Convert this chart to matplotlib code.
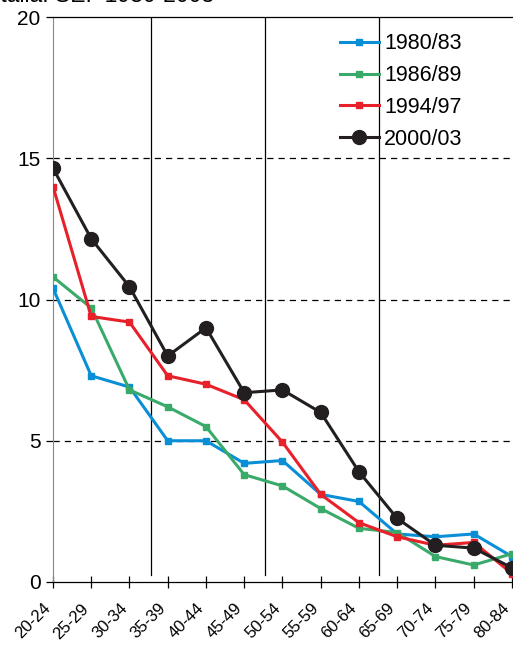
import matplotlib
matplotlib.use('Agg')
from matplotlib import pyplot as plt
from matplotlib.transforms import ScaledTranslation

plt.rcParams['font.family'] = ['Liberation Sans', 'DejaVu Sans']

# classi di età
eta = ['20-24', '25-29', '30-34', '35-39', '40-44', '45-49', '50-54',
       '55-59', '60-64', '65-69', '70-74', '75-79', '80-84']

s1980 = [10.4, 7.3, 6.9, 5.0, 5.0, 4.2, 4.3, 3.1, 2.85, 1.7, 1.6, 1.7, 0.9]
s1986 = [10.8, 9.7, 6.8, 6.2, 5.5, 3.8, 3.4, 2.6, 1.9, 1.75, 0.9, 0.6, 1.0]
s1994 = [14.0, 9.4, 9.2, 7.3, 7.0, 6.45, 4.95, 3.1, 2.1, 1.6, 1.3, 1.4, 0.3]
s2000 = [14.65, 12.15, 10.45, 8.0, 9.0, 6.7, 6.8, 6.0, 3.9, 2.25, 1.3, 1.2, 0.5]

serie = [('1980/83', s1980, '#0a8fd6', 's', 5),
         ('1986/89', s1986, '#3aaa6a', 's', 5),
         ('1994/97', s1994, '#e8202a', 's', 5),
         ('2000/03', s2000, '#231f20', 'o', 10)]

fig = plt.figure(figsize=(5.13, 6.45), dpi=100)
ax = fig.add_axes([0.1033, 0.0977, 0.8947, 0.8759])

x = list(range(len(eta)))

# linee verticali di separazione
for xv in [2.55, 5.55, 8.52]:
    ax.plot([xv, xv], [0.25, 20], color='black', lw=0.9, zorder=1)

# griglia orizzontale tratteggiata
for yv in [5, 10, 15]:
    ax.axhline(yv, color='black', lw=0.9, ls=(0, (5, 4)), zorder=1)

for nome, val, col, mk, ms in serie:
    ax.plot(x, val, color=col, lw=2.2, marker=mk, ms=ms, label=nome, zorder=3)

ax.set_xlim(0, 12)
ax.set_ylim(0, 20)
ax.set_yticks([0, 5, 10, 15, 20])
ax.set_xticks(x)
ax.set_xticklabels(eta, rotation=45, ha='right', va='top',
                   rotation_mode='anchor', fontsize=12)
ax.tick_params(axis='x', direction='inout', length=9, width=0.9, pad=9)
ax.tick_params(axis='y', direction='out', length=5, width=0.9, labelsize=15, pad=4)
for lab in ax.get_xticklabels():
    lab.set_transform(lab.get_transform() + ScaledTranslation(-0.1, 0, fig.dpi_scale_trans))

ax.spines['right'].set_visible(False)
ax.spines['left'].set_color('#888888')
for s in ['top', 'bottom']:
    ax.spines[s].set_linewidth(0.9)

leg = ax.legend(loc='upper left', bbox_to_anchor=(0.625, 0.971), frameon=False,
                fontsize=15.5, handlelength=1.8, handletextpad=0.25,
                labelspacing=0.5, borderaxespad=0, borderpad=0)

fig.text(-0.012, 1 - 2 / 645, 'Italia: SE.  1980-2003', fontsize=16.5, va='baseline')

fig.savefig('out.png', dpi=100)
